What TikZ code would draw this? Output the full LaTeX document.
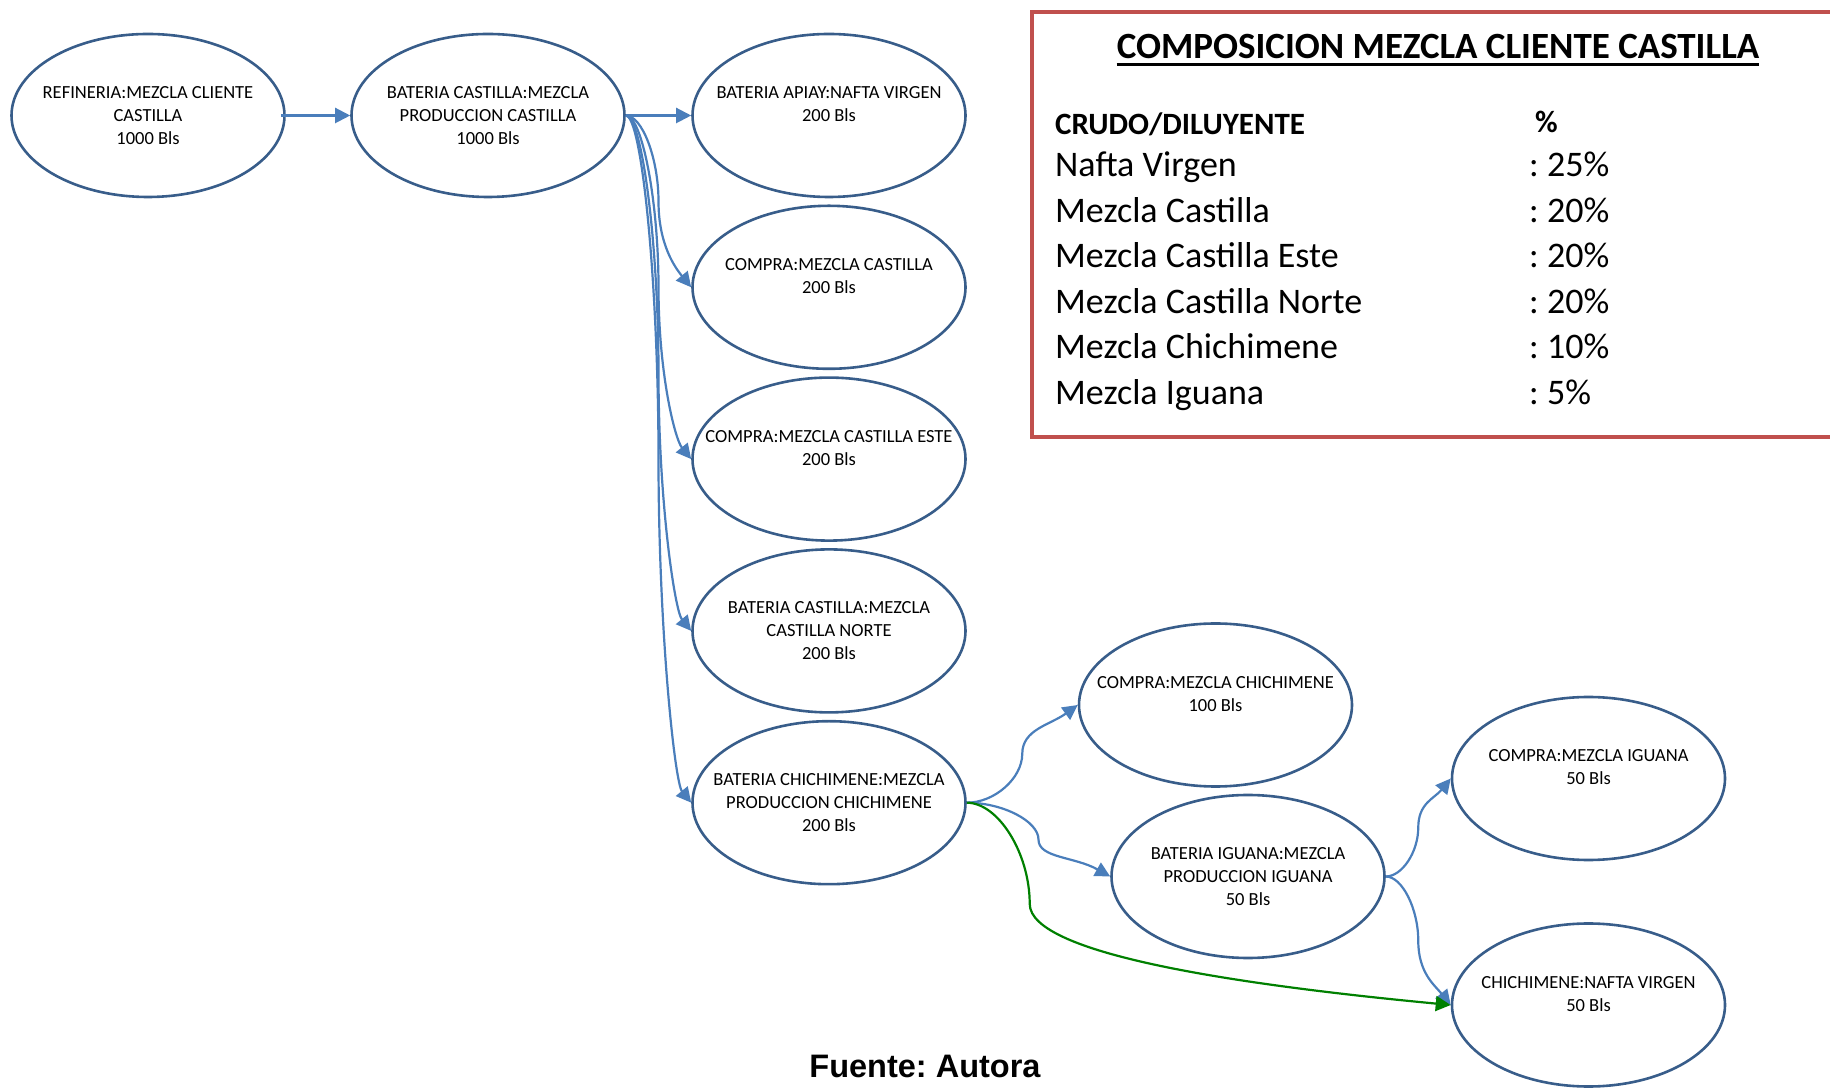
\documentclass[tikz,border=0pt]{standalone}
\usepackage{fontspec}
\setmainfont{Carlito}
\newfontfamily\arialfont{Liberation Sans}
\usetikzlibrary{shapes.geometric,arrows.meta,calc}

\definecolor{bordeazul}{RGB}{56,93,138}
\definecolor{flechaazul}{RGB}{74,126,187}
\definecolor{flechaverde}{RGB}{0,128,0}
\definecolor{rojocuadro}{RGB}{192,80,77}

\tikzset{
  % conector curvo: sale horizontal, va en vertical por x1+(x2-x1)*#1 y entra inclinado
  curva/.style={to path={
    let \p1=(\tikztostart), \p2=(\tikztotarget), \n1={\x1+(\x2-\x1)*#1}, \n2={20*sign(\y1-\y2)} in
    .. controls ({(\x1+\n1*1pt)/2},\y1) and ({\n1*1pt},{\y1+(\y2-\y1)/4}) .. ({\n1*1pt},{(\y1+\y2)/2})
    .. controls ({\n1*1pt},{\y1+3*(\y2-\y1)/4}) and ({(\x2+\n1*1pt)/2},{\y2+\n2*1pt}) .. (\tikztotarget) \tikztonodes}},
  curva/.default=0.5
}

\begin{document}
\frenchspacing
\begin{tikzpicture}[x=1pt,y=1pt,
  tanque/.style={ellipse, draw=bordeazul, line width=2.6pt, minimum width=273pt, minimum height=163pt, inner sep=0pt},
  texto/.style={align=center, font=\fontsize{18.5}{23}\selectfont, inner sep=0pt},
  flecha/.style={color=flechaazul, line width=2.2pt, -{Triangle[length=15pt,width=15pt]}},
  flechaverde/.style={color=flechaverde, line width=2.2pt, -{Triangle[length=15pt,width=15pt]}},
  tabla/.style={anchor=base west, inner sep=0pt, font=\fontsize{36}{40}\selectfont},
  cabecera/.style={anchor=base west, inner sep=0pt, font=\bfseries\fontsize{31}{36}\selectfont}]

	\useasboundingbox (0,0) rectangle (1830,1087);

	% Tanques y baterias
	\node[tanque] (refineria) at (148,971.5) {};
	\node[texto] (refineria-t) at (refineria) {REFINERIA:MEZCLA CLIENTE\\CASTILLA\\1000 Bls};
	\node[tanque] (bcastilla) at (488,971.5) {};
	\node[texto] (bcastilla-t) at (bcastilla) {BATERIA CASTILLA:MEZCLA\\PRODUCCION CASTILLA\\1000 Bls};
	\node[tanque] (apiay) at (829,971.5) {};
	\node[texto] (apiay-t) at (apiay) {BATERIA APIAY:NAFTA VIRGEN\\200 Bls\\\mbox{}};
	\node[tanque] (cmcastilla) at (829,799.7) {};
	\node[texto] (cmcastilla-t) at (cmcastilla) {COMPRA:MEZCLA CASTILLA\\200 Bls\\\mbox{}};
	\node[tanque] (cmeste) at (829,627.9) {};
	\node[texto] (cmeste-t) at (cmeste) {COMPRA:MEZCLA CASTILLA ESTE\\200 Bls\\\mbox{}};
	\node[tanque] (bnorte) at (829,456.1) {};
	\node[texto] (bnorte-t) at (bnorte) {BATERIA CASTILLA:MEZCLA\\CASTILLA NORTE\\200 Bls};
	\node[tanque] (bchichi) at (829,284.3) {};
	\node[texto] (bchichi-t) at (bchichi) {BATERIA CHICHIMENE:MEZCLA\\PRODUCCION CHICHIMENE\\200 Bls};
	\node[tanque] (cmchichi) at (1215.5,382) {};
	\node[texto] (cmchichi-t) at (cmchichi) {COMPRA:MEZCLA CHICHIMENE\\100 Bls\\\mbox{}};
	\node[tanque] (biguana) at (1248,210.5) {};
	\node[texto] (biguana-t) at (biguana) {BATERIA IGUANA:MEZCLA\\PRODUCCION IGUANA\\50 Bls};
	\node[tanque] (cmiguana) at (1588.5,308.5) {};
	\node[texto] (cmiguana-t) at (cmiguana) {COMPRA:MEZCLA IGUANA\\50 Bls\\\mbox{}};
	\node[tanque] (chnafta) at (1588.5,82) {};
	\node[texto] (chnafta-t) at (chnafta) {CHICHIMENE:NAFTA VIRGEN\\50 Bls\\\mbox{}};

	% Flujos
	\draw[flecha] ([xshift=-5pt]refineria.east) -- (bcastilla.west);
	\draw[flecha] (bcastilla.east) -- (apiay.west);
	\draw[flecha] (bcastilla.east) to[curva] (cmcastilla.west);
	\draw[flecha] (bcastilla.east) to[curva] (cmeste.west);
	\draw[flecha] (bcastilla.east) to[curva] (bnorte.west);
	\draw[flecha] (bcastilla.east) to[curva] (bchichi.west);
	\draw[flecha] (bchichi.east) to[curva] (cmchichi.west);
	\draw[flecha] (bchichi.east) to[curva] (biguana.west);
	\draw[flecha] (biguana.east) to[curva] (cmiguana.west);
	\draw[flecha] (biguana.east) to[curva] (chnafta.west);
	\draw[flechaverde] (bchichi.east) to[curva=0.13] (chnafta.west);

	% Cuadro de composicion
	\draw[rojocuadro, line width=4pt] (1032,1075) rectangle (1860,649.5);
	\node[anchor=base, inner sep=0pt, font=\bfseries\fontsize{37}{40}\selectfont] (titulo) at (1438,1028.7) {COMPOSICION MEZCLA CLIENTE CASTILLA};
	\draw[line width=3.5pt] ([yshift=-6pt]titulo.base west) -- ([yshift=-6pt]titulo.base east);
	\node[cabecera] (crudo) at (1055,952) {CRUDO/DILUYENTE};
	\node[cabecera] (pct) at (1535,954) {\%};
	\node[tabla] (nafta) at (1055,910) {Nafta Virgen};
	\node[tabla] (nafta-v) at (1529,910) {: 25\%};
	\node[tabla] (mcast) at (1055,864.5) {Mezcla Castilla};
	\node[tabla] (mcast-v) at (1529,864.5) {: 20\%};
	\node[tabla] (meste) at (1055,819) {Mezcla Castilla Este};
	\node[tabla] (meste-v) at (1529,819) {: 20\%};
	\node[tabla] (mnorte) at (1055,773.5) {Mezcla Castilla Norte};
	\node[tabla] (mnorte-v) at (1529,773.5) {: 20\%};
	\node[tabla] (mchichi) at (1055,728) {Mezcla Chichimene};
	\node[tabla] (mchichi-v) at (1529,728) {: 10\%};
	\node[tabla] (miguana) at (1055,682.5) {Mezcla Iguana};
	\node[tabla] (miguana-v) at (1529,682.5) {: 5\%};

	% Fuente
	\node[anchor=base, inner sep=0pt, font=\arialfont\bfseries\fontsize{32.5}{36}\selectfont] (fuente) at (925,10) {Fuente: Autora};

\end{tikzpicture}
\end{document}
